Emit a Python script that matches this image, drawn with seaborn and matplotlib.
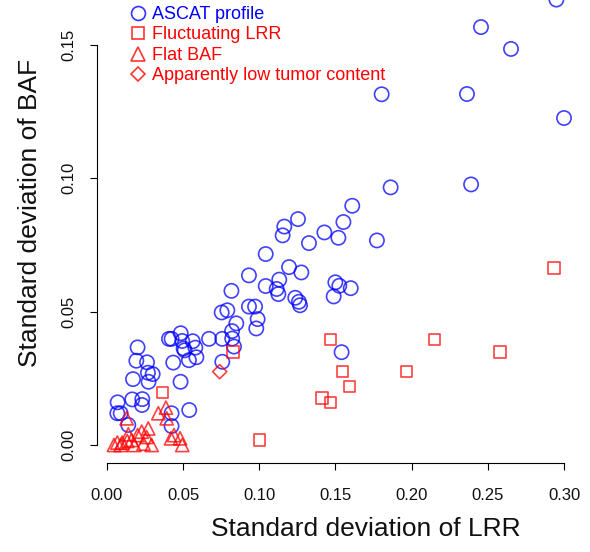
import matplotlib
matplotlib.use("Agg")
import matplotlib.pyplot as plt
from matplotlib.lines import Line2D
import seaborn as sns
import pandas as pd

# ---- data ----
ascat_lrr = [0.295, 0.2455, 0.2652, 0.2363, 0.1803, 0.300, 0.1862, 0.2390, 0.1610, 0.1552,
             0.1519, 0.1772, 0.1254, 0.1164, 0.1153, 0.1427, 0.1326, 0.1042, 0.1195, 0.1276,
             0.0932, 0.1131, 0.1042, 0.1114, 0.1125, 0.1499, 0.1525, 0.1600, 0.1488, 0.1236,
             0.1260, 0.1267, 0.0817, 0.0932, 0.0972, 0.0989, 0.0980, 0.0849, 0.0821, 0.0822,
             0.0753, 0.0790, 0.0670, 0.0757, 0.0484, 0.0407, 0.0424, 0.0494, 0.0563, 0.0503,
             0.0510, 0.0580, 0.0587, 0.0538, 0.0435, 0.0834, 0.0757, 0.0483, 0.0201, 0.0193,
             0.0263, 0.0269, 0.0300, 0.0171, 0.0273, 0.0166, 0.0232, 0.0230, 0.0070, 0.0068,
             0.0090, 0.0140, 0.0424, 0.0540, 0.0424, 0.1540]
ascat_baf = [0.167, 0.1567, 0.1485, 0.1316, 0.1315, 0.1226, 0.0966, 0.0977, 0.0897, 0.0836,
             0.0777, 0.0767, 0.0847, 0.0819, 0.0786, 0.0797, 0.0757, 0.0716, 0.0667, 0.0647,
             0.0636, 0.0620, 0.0596, 0.0585, 0.0566, 0.0610, 0.0597, 0.0588, 0.0557, 0.0552,
             0.0537, 0.0524, 0.0578, 0.0519, 0.0519, 0.0472, 0.0437, 0.0456, 0.0427, 0.0399,
             0.0497, 0.0505, 0.0398, 0.0398, 0.0419, 0.0398, 0.0398, 0.0390, 0.0389, 0.0362,
             0.0355, 0.0365, 0.0329, 0.0318, 0.0309, 0.0369, 0.0312, 0.0237, 0.0366, 0.0316,
             0.0310, 0.0271, 0.0266, 0.0247, 0.0237, 0.0171, 0.0172, 0.0150, 0.0160, 0.0119,
             0.0119, 0.0075, 0.0119, 0.0131, 0.0071, 0.0348]

fluct_lrr = [0.0366, 0.0827, 0.1000, 0.1411, 0.1466, 0.1466, 0.1547, 0.1593, 0.1967, 0.2151,
             0.2580, 0.2935]
fluct_baf = [0.0196, 0.0349, 0.0019, 0.0176, 0.0159, 0.0396, 0.0275, 0.0219, 0.0275, 0.0396,
             0.0349, 0.0664]

flat_lrr = [0.0046, 0.0068, 0.0100, 0.0133, 0.0162, 0.0201, 0.0228, 0.0271, 0.0293, 0.0260,
            0.0129, 0.0337, 0.0387, 0.0392, 0.0420, 0.0480, 0.0494, 0.0090, 0.0180, 0.0240,
            0.0440, 0.0140]
flat_baf = [0.0000, 0.0009, 0.0009, 0.0015, 0.0019, 0.0037, 0.0050, 0.0062, 0.0000, 0.0030,
            0.0100, 0.0119, 0.0140, 0.0100, 0.0025, 0.0025, 0.0000, 0.0000, 0.0000, 0.0005,
            0.0037, 0.0040]

lowtc_lrr = [0.0740]
lowtc_baf = [0.0275]

groups = ["ASCAT profile", "Fluctuating LRR", "Flat BAF", "Apparently low tumor content"]
x_ticks = [0.00, 0.05, 0.10, 0.15, 0.20, 0.25, 0.30]
y_ticks = [0.00, 0.05, 0.10, 0.15]

df = pd.concat([
    pd.DataFrame({"lrr": ascat_lrr, "baf": ascat_baf, "group": groups[0]}),
    pd.DataFrame({"lrr": fluct_lrr, "baf": fluct_baf, "group": groups[1]}),
    pd.DataFrame({"lrr": flat_lrr, "baf": flat_baf, "group": groups[2]}),
    pd.DataFrame({"lrr": lowtc_lrr, "baf": lowtc_baf, "group": groups[3]}),
], ignore_index=True)

# ---- styling ----
sns.set_style("white")
plt.rcParams["font.family"] = ["Liberation Sans", "DejaVu Sans"]

BLUE = "#0000ff"
RED = "#ff0000"
styles = {
    groups[0]: dict(marker="o", s=105, color=BLUE, ms=10.0),
    groups[1]: dict(marker="s", s=66, color=RED, ms=8.0),
    groups[2]: dict(marker="^", s=90, color=RED, ms=9.5),
    groups[3]: dict(marker="D", s=52, color=RED, ms=7.0),
}

W, H = 590, 552
fig = plt.figure(figsize=(W / 100, H / 100), dpi=100)
# axes box in pixels
left_px, right_px, top_px, bot_px = 96.6, 582.0, -18.8, 463.0
ax = fig.add_axes([left_px / W, (H - bot_px) / H, (right_px - left_px) / W, (bot_px - top_px) / H])

for g in groups:
    st = styles[g]
    sns.scatterplot(data=df[df["group"] == g], x="lrr", y="baf", marker=st["marker"], s=st["s"],
                    facecolor="none", edgecolor=st["color"], linewidth=1.2, alpha=0.75,
                    ax=ax, legend=False, zorder=3)

ax.set_xlim(-0.0068, 0.3118)
ax.set_ylim(-0.00675, 0.1739)

ax.set_xticks(x_ticks)
ax.set_xticklabels([f"{v:.2f}" for v in x_ticks])
ax.set_yticks(y_ticks)
ax.set_yticklabels([f"{v:.2f}" for v in y_ticks], rotation=90, va="center")

for side in ["top", "right"]:
    ax.spines[side].set_visible(False)
for side in ["left", "bottom"]:
    ax.spines[side].set_color("black")
    ax.spines[side].set_linewidth(0.8)
ax.spines["bottom"].set_bounds(0.0, 0.30)
ax.spines["left"].set_bounds(0.0, 0.15)

ax.tick_params(axis="both", which="major", direction="out", length=5.2, width=0.8,
               color="black", labelsize=12, labelcolor="#111111",
               bottom=True, left=True, top=False, right=False)
ax.tick_params(axis="x", pad=13)
ax.tick_params(axis="y", pad=9.5)
ax.grid(False)

ax.set_xlabel("Standard deviation of LRR", fontsize=19, color="#111111")
ax.set_ylabel("Standard deviation of BAF", fontsize=19, color="#111111")
ax.xaxis.set_label_coords((366 - left_px) / (right_px - left_px), (bot_px - 517) / (bot_px - top_px))
ax.yaxis.set_label_coords((42 - left_px) / (right_px - left_px), (bot_px - 213) / (bot_px - top_px))

handles = [Line2D([], [], ls="", marker=styles[g]["marker"], ms=styles[g]["ms"],
                  mfc="none", mec=styles[g]["color"], mew=1.2, alpha=0.8) for g in groups]
ax.legend(handles, groups, loc="upper left", bbox_to_anchor=(129 / W, 1 - 6 / H),
          bbox_transform=fig.transFigure, frameon=False, fontsize=13, borderpad=0,
          borderaxespad=0, handlelength=1.0, handletextpad=0.3, labelspacing=0.19,
          labelcolor=[BLUE, RED, RED, RED])

fig.savefig("out.png", dpi=100)
